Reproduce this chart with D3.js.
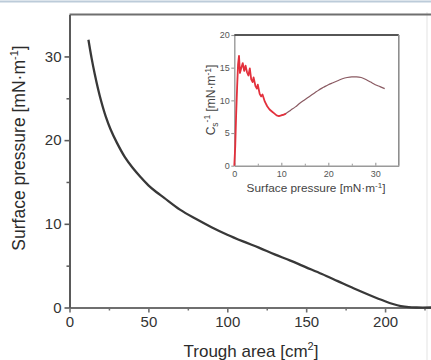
<!DOCTYPE html>
<html>
<head>
<meta charset="utf-8">
<script src="https://cdn.jsdelivr.net/npm/d3@7"></script>
<style>
  html, body { margin: 0; padding: 0; background: #fff; overflow: hidden; }
  svg text { font-family: "Liberation Sans", Arial, sans-serif; }
</style>
</head>
<body>
<svg id="chart" width="431" height="360"></svg>
<script>
// Compression isotherm: surface pressure vs trough area
const troughArea      = [12, 14, 16, 18, 20, 23, 26, 30, 35, 40, 45, 50, 55, 60, 70, 80, 90, 100, 110, 120, 130, 140, 150, 160, 170, 180, 190, 200, 205, 210, 215, 220, 230];
const surfacePressure = [32, 29.8, 27.9, 26.2, 24.7, 22.8, 21.3, 19.7, 18.0, 16.7, 15.6, 14.6, 13.8, 13.1, 11.7, 10.6, 9.6, 8.7, 7.9, 7.15, 6.35, 5.6, 4.8, 4.0, 3.15, 2.3, 1.5, 0.75, 0.42, 0.17, 0.04, 0, 0];

// Inset: compression modulus Cs^-1 vs surface pressure
const insetPressure = [0, 0.2, 0.4, 0.6, 0.8, 1.0, 1.2, 1.5, 1.8, 2.1, 2.4, 2.7, 3.0, 3.3, 3.6, 3.9, 4.1, 4.5, 4.8, 5.0, 5.4, 5.7, 6.0, 6.5, 7.0, 7.5, 8.0, 8.5, 9.0, 9.5, 10.0, 10.5, 11, 12, 13, 14, 15, 16, 17, 18, 19, 20, 21, 22, 23, 24, 25, 26, 27, 28, 29, 30, 31, 32];
const insetModulus  = [0, 3, 8, 12, 15.5, 16.8, 14.2, 15.0, 15.7, 14.5, 15.3, 14.3, 13.8, 14.9, 13.2, 12.8, 13.5, 12.2, 11.8, 12.4, 11.0, 10.6, 10.9, 9.8, 9.1, 8.6, 8.3, 8.0, 7.7, 7.6, 7.7, 7.8, 8.0, 8.5, 9.0, 9.6, 10.1, 10.6, 11.1, 11.6, 12.0, 12.4, 12.7, 13.0, 13.3, 13.5, 13.6, 13.6, 13.5, 13.2, 12.8, 12.4, 12.1, 11.8];
const noisyLimit = 11;

const mainXTicks = [0, 50, 100, 150, 200];
const mainXMinor = [25, 75, 125, 175, 225];
const mainYTicks = [0, 10, 20, 30];
const mainYMinor = [5, 15, 25];
const insetXTicks = [0, 10, 20, 30];
const insetXMinor = [5, 15, 25];
const insetYTicks = [0, 5, 10, 15, 20];

const svg = d3.select("#chart");

// thin frame strokes around the figure area
svg.append("line").attr("x1", 0).attr("x2", 431).attr("y1", 1.5).attr("y2", 1.5)
  .attr("stroke", "#bccbd9").attr("stroke-width", 2);
svg.append("line").attr("x1", 427).attr("x2", 427).attr("y1", 12).attr("y2", 360)
  .attr("stroke", "#ececec").attr("stroke-width", 1.5);

// ---------- main plot ----------
const x = d3.scaleLinear().domain([0, 230]).range([69.5, 432.4]);
const y = d3.scaleLinear().domain([0, 35]).range([307.5, 14.6]);

const axisColor = "#5a5a5a";

function styleAxis(g, color, width, fontSize, textColor) {
  g.select(".domain").attr("stroke", color).attr("stroke-width", width);
  g.selectAll(".tick line").attr("stroke", color).attr("stroke-width", width * 0.8);
  g.selectAll(".tick text").attr("fill", textColor).style("font-size", fontSize + "px")
    .style("font-family", '"Liberation Sans", Arial, sans-serif');
}

// top border line
svg.append("line").attr("x1", x(0)).attr("x2", 431).attr("y1", y(35)).attr("y2", y(35))
  .attr("stroke", "#6f6f6f").attr("stroke-width", 2);

// bottom axis
const gx = svg.append("g").attr("transform", `translate(0,${y(0)})`)
  .call(d3.axisBottom(x).tickValues(mainXTicks).tickSize(5).tickSizeOuter(0).tickPadding(4));
styleAxis(gx, "#6f6f6f", 2, 15, "#333");
svg.append("g").attr("transform", `translate(0,${y(0)})`)
  .call(d3.axisBottom(x).tickValues(mainXMinor).tickSize(3).tickFormat(""))
  .call(g => { g.select(".domain").remove(); g.selectAll(".tick line").attr("stroke", "#6f6f6f").attr("stroke-width", 1.5); });

// left axis
const gy = svg.append("g").attr("transform", `translate(${x(0)},0)`)
  .call(d3.axisLeft(y).tickValues(mainYTicks).tickSize(5).tickSizeOuter(0).tickPadding(3));
styleAxis(gy, axisColor, 2, 15, "#333");
svg.append("g").attr("transform", `translate(${x(0)},0)`)
  .call(d3.axisLeft(y).tickValues(mainYMinor).tickSize(3).tickFormat(""))
  .call(g => { g.select(".domain").remove(); g.selectAll(".tick line").attr("stroke", axisColor).attr("stroke-width", 1.5); });

// isotherm curve
const mainLine = d3.line().x(d => x(d[0])).y(d => y(d[1])).curve(d3.curveCatmullRom.alpha(0.5));
svg.append("path")
  .datum(d3.zip(troughArea, surfacePressure))
  .attr("d", mainLine)
  .attr("fill", "none").attr("stroke", "#383838").attr("stroke-width", 2.3);

// axis titles
const xTitle = svg.append("text").attr("x", 251).attr("y", 356.5).attr("text-anchor", "middle")
  .attr("fill", "#2c2c2c").style("font-size", "17px");
xTitle.append("tspan").text("Trough area [cm");
xTitle.append("tspan").attr("dy", -7).style("font-size", "11px").text("2");
xTitle.append("tspan").attr("dy", 7).text("]");

const yTitle = svg.append("text").attr("transform", "translate(25,148) rotate(-90)")
  .attr("text-anchor", "middle").attr("fill", "#2c2c2c").style("font-size", "17.5px");
yTitle.append("tspan").text("Surface pressure [mN·m");
yTitle.append("tspan").attr("dy", -7).style("font-size", "11px").text("-1");
yTitle.append("tspan").attr("dy", 7).text("]");

// ---------- inset ----------
const ix = d3.scaleLinear().domain([0, 35]).range([234.3, 398.8]);
const iy = d3.scaleLinear().domain([0, 20]).range([165.7, 35]);

const inset = svg.append("g");
inset.append("rect").attr("x", ix(0)).attr("y", iy(20)).attr("width", ix(35) - ix(0)).attr("height", iy(0) - iy(20))
  .attr("fill", "#fff").attr("stroke", "none");

const igx = inset.append("g").attr("transform", `translate(0,${iy(0)})`)
  .call(d3.axisBottom(ix).tickValues(insetXTicks).tickSize(-3).tickSizeOuter(0).tickPadding(4));
styleAxis(igx, "#9a9a9a", 1.4, 9, "#555");
igx.selectAll(".tick text").attr("dy", "0.71em").attr("y", 5);
inset.append("g").attr("transform", `translate(0,${iy(0)})`)
  .call(d3.axisBottom(ix).tickValues(insetXMinor).tickSize(-2).tickFormat(""))
  .call(g => { g.select(".domain").remove(); g.selectAll(".tick line").attr("stroke", "#9a9a9a").attr("stroke-width", 1); });

const igy = inset.append("g").attr("transform", `translate(${ix(0)},0)`)
  .call(d3.axisLeft(iy).tickValues(insetYTicks).tickSize(3).tickSizeOuter(0).tickPadding(1.5));
styleAxis(igy, "#9a9a9a", 1.4, 9, "#555");

// top and right edges of the inset frame
inset.append("line").attr("x1", ix(0)).attr("x2", ix(35)).attr("y1", iy(20)).attr("y2", iy(20))
  .attr("stroke", "#1e1e1e").attr("stroke-width", 1.5);
inset.append("line").attr("x1", ix(35)).attr("x2", ix(35)).attr("y1", iy(20)).attr("y2", iy(0))
  .attr("stroke", "#8e8e8e").attr("stroke-width", 1.6);

const insetPts = d3.zip(insetPressure, insetModulus);
inset.append("path")
  .datum(insetPts.filter(d => d[0] >= noisyLimit - 1))
  .attr("d", d3.line().x(d => ix(d[0])).y(d => iy(d[1])).curve(d3.curveMonotoneX))
  .attr("fill", "none").attr("stroke", "#8a5a62").attr("stroke-width", 1.2);
inset.append("path")
  .datum(insetPts.filter(d => d[0] <= noisyLimit))
  .attr("d", d3.line().x(d => ix(d[0])).y(d => iy(d[1])))
  .attr("fill", "none").attr("stroke", "#e3303c").attr("stroke-width", 1.8)
  .attr("stroke-linejoin", "round");

const ixTitle = inset.append("text").attr("x", 316).attr("y", 192).attr("text-anchor", "middle")
  .attr("fill", "#444").style("font-size", "11.8px");
ixTitle.append("tspan").text("Surface pressure [mN·m");
ixTitle.append("tspan").attr("dy", -4.5).style("font-size", "8px").text("-1");
ixTitle.append("tspan").attr("dy", 4.5).text("]");

const iyTitle = inset.append("text").attr("transform", "translate(215,100) rotate(-90)")
  .attr("text-anchor", "middle").attr("fill", "#444").style("font-size", "12px");
iyTitle.append("tspan").text("C");
iyTitle.append("tspan").attr("dy", 3).style("font-size", "8.5px").text("s");
iyTitle.append("tspan").attr("dy", -8).style("font-size", "8.5px").text("-1");
iyTitle.append("tspan").attr("dy", 5).text(" [mN·m");
iyTitle.append("tspan").attr("dy", -4.5).style("font-size", "8.5px").text("-1");
iyTitle.append("tspan").attr("dy", 4.5).text("]");
</script>
</body>
</html>
